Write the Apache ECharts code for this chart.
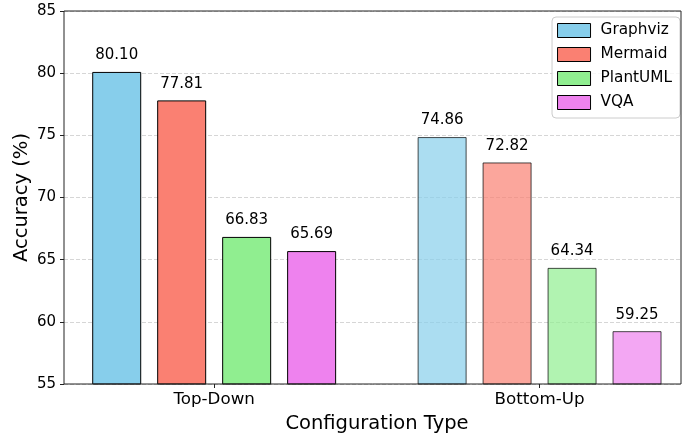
<!DOCTYPE html>
<html><head><meta charset="utf-8">
<script src="https://cdn.jsdelivr.net/npm/echarts@6/dist/echarts.min.js"></script>
<style>html,body{margin:0;padding:0;background:#fff}#c{width:682px;height:434px}</style>
</head><body><div id="c"></div>
<script>
const categories = ['Top-Down', 'Bottom-Up'];
const seriesNames = ['Graphviz', 'Mermaid', 'PlantUML', 'VQA'];
const graphviz = [80.10, 74.86];
const mermaid = [77.81, 72.82];
const plantuml = [66.83, 64.34];
const vqa = [65.69, 59.25];
const yTicks = [55, 60, 65, 70, 75, 80, 85];

const colors = [[135,206,235],[250,128,114],[144,238,144],[238,130,238]];
const values = [graphviz, mermaid, plantuml, vqa];
const alphas = [1, 0.7];
const FONT = 'DejaVu Sans';
function rgba(c,a){return 'rgba('+c[0]+','+c[1]+','+c[2]+','+a+')';}
const catIdx = categories.map((c, j) => j);

const series = seriesNames.map((name, i) => ({
  name, type: 'bar',
  barWidth: 49, barGap: '32.6%',
  itemStyle: {color: rgba(colors[i],1), borderColor: '#000', borderWidth: 1},
  label: {show: true, position: 'top', distance: 9, color: '#000', fontFamily: FONT, fontSize: 15,
    formatter: p => p.value[1].toFixed(2)},
  data: values[i].map((v, j) => ({value: [catIdx[j], v], itemStyle: {color: rgba(colors[i], alphas[j]), borderColor: 'rgba(0,0,0,' + alphas[j] + ')'}}))
}));

const chart = echarts.init(document.getElementById('c'), null, {renderer: 'canvas'});
chart.setOption({
  animation: false,
  backgroundColor: '#fff',
  textStyle: {fontFamily: FONT},
  grid: {left: 64, right: 1, top: 11, bottom: 50, containLabel: false, outerBoundsMode: 'none',
    show: true, borderColor: '#222', borderWidth: 1, backgroundColor: 'transparent', z: 5},
  legend: {
    orient: 'vertical', right: 2, top: 17, itemWidth: 33, itemHeight: 14, itemGap: 9,
    padding: [6, 8, 8, 5], borderColor: '#ccc', borderWidth: 1, borderRadius: 4, backgroundColor: 'rgba(255,255,255,0.8)',
    textStyle: {fontFamily: FONT, fontSize: 15.3, color: '#000', lineHeight: 14, padding: [0,0,0,5]},
    data: seriesNames.map((n, i) => ({name: n, icon: 'rect', itemStyle: {color: rgba(colors[i],1), borderColor: '#000', borderWidth: 1}}))
  },
  xAxis: {
    type: 'value', min: -0.4615, max: 1.4346,
    axisLine: {show: false, onZero: false},
    axisTick: {show: true, customValues: catIdx, length: 4, lineStyle: {color: '#222'}},
    axisLabel: {show: true, customValues: catIdx, formatter: v => categories[v] || '', fontFamily: FONT, fontSize: 16.7, color: '#000', margin: 7},
    splitLine: {show: false},
    name: 'Configuration Type', nameLocation: 'middle', nameGap: 30, nameMoveOverlap: false,
    nameTextStyle: {fontFamily: FONT, fontSize: 19.5, color: '#000', padding: [0, 0, 0, 9]}
  },
  yAxis: {
    type: 'value', min: yTicks[0], max: yTicks[yTicks.length-1], interval: 5,
    axisLine: {show: false, onZero: false}, axisTick: {show: true, length: 4, lineStyle: {color: '#222'}},
    axisLabel: {fontFamily: FONT, fontSize: 15, color: '#000', margin: 8},
    splitLine: {show: true, lineStyle: {color: '#ccc', type: [4, 2], width: 0.8}},
    name: 'Accuracy (%)', nameLocation: 'middle', nameGap: 32, nameMoveOverlap: false,
    nameTextStyle: {fontFamily: FONT, fontSize: 19.5, color: '#000'}
  },
  series
});
</script></body></html>
